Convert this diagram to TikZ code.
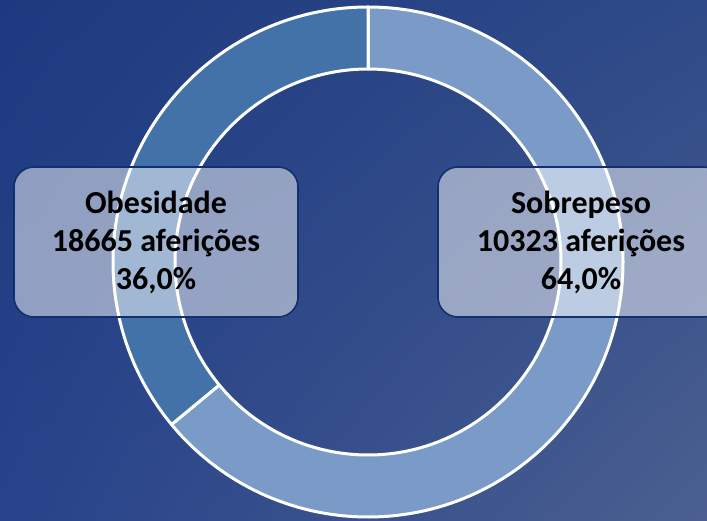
\documentclass[tikz,border=0pt]{standalone}
\usepackage{fontspec}
\setmainfont{Carlito}
\usetikzlibrary{shadings}
\definecolor{bgTL}{HTML}{1D3A80}
\definecolor{bgTR}{HTML}{2F4A88}
\definecolor{bgBL}{HTML}{27438A}
\definecolor{bgBR}{HTML}{4B6090}
\definecolor{segDark}{HTML}{4272A8}
\definecolor{segLight}{HTML}{7A9BC7}
\definecolor{boxLine}{HTML}{10306E}
\begin{document}
\begin{tikzpicture}[
    x=1pt, y=1pt,
    slice/.style={draw=white, line width=3pt, line join=round},
    label box/.style={draw=boxLine, line width=1.6pt, fill=white, fill opacity=0.5, text opacity=1,
        rounded corners=20pt, minimum width=284pt, minimum height=150pt, align=center,
        font=\fontsize{32}{38}\selectfont\bfseries}
]
\useasboundingbox (0,0) rectangle (707,520);
\shade[upper left=bgTL, upper right=bgTR, lower left=bgBL, lower right=bgBR] (0,0) rectangle (707,520);

% Ring
\begin{scope}[shift={(368,258)}]
\path[slice, fill=segLight] (90:255) arc[start angle=90, end angle=-140.4, radius=255]
    -- (-140.4:193) arc[start angle=-140.4, end angle=90, radius=193] -- cycle;
\path[slice, fill=segDark] (90:255) arc[start angle=90, end angle=219.6, radius=255]
    -- (219.6:193) arc[start angle=219.6, end angle=90, radius=193] -- cycle;
\end{scope}

% Labels
\node[label box] (obesidade) at (156,278) {Obesidade\\18665 aferições\\36,0\%};
\node[label box, minimum width=286pt] (sobrepeso) at (581,278) {Sobrepeso\\10323 aferições\\64,0\%};

\end{tikzpicture}
\end{document}
